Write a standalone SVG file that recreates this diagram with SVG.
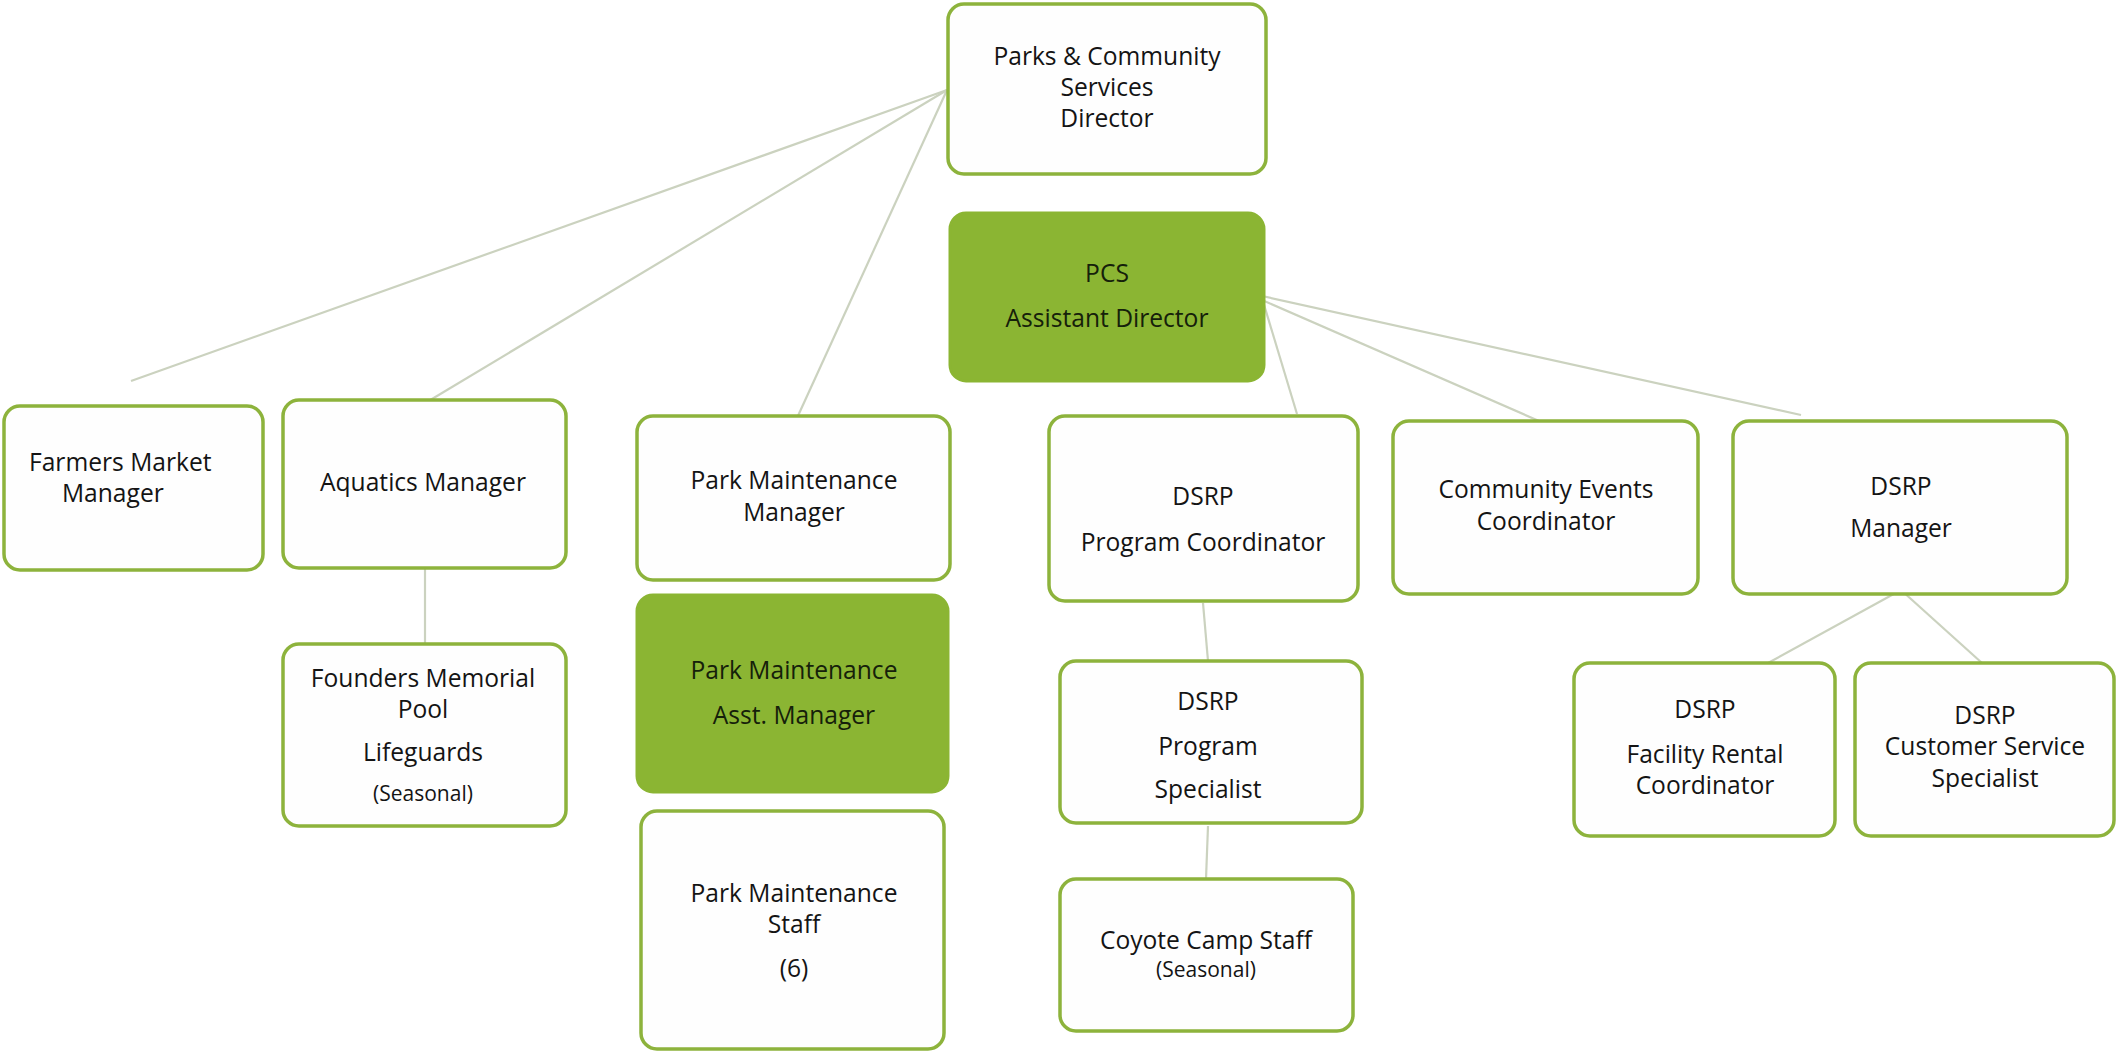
<svg xmlns="http://www.w3.org/2000/svg" width="2117" height="1053" viewBox="0 0 2117 1053">
<style>
.box{fill:#fefefe;stroke:#8db33c;stroke-width:3.5}
.fill{fill:#8bb533;stroke:#8bb533;stroke-width:3}
text{font-family:"Open Sans","Noto Sans","Liberation Sans",sans-serif;font-size:24.6px;fill:#141414;text-anchor:middle}
.dk{fill:#15200a}
.sm{font-size:21px}
.st{text-anchor:start}
.conn line{stroke:#cbd2bf;stroke-width:2.2}
</style>
<rect width="2117" height="1053" fill="#ffffff"/>
<g class="conn" id="connectors">
<line x1="947" y1="90" x2="131" y2="381"/>
<line x1="947" y1="90" x2="427" y2="402"/>
<line x1="947" y1="90" x2="797" y2="418"/>
<line x1="1262" y1="298" x2="1297" y2="414"/>
<line x1="1262" y1="300" x2="1539" y2="421"/>
<line x1="1262" y1="296" x2="1801" y2="415"/>
<line x1="425" y1="566" x2="425" y2="644"/>
<line x1="1203" y1="603" x2="1208" y2="661"/>
<line x1="1208" y1="826" x2="1206" y2="879"/>
<line x1="1901" y1="590" x2="1768" y2="663"/>
<line x1="1901" y1="590" x2="1982" y2="663"/>
</g>
<g id="director"><rect class="box" x="948" y="4" width="318" height="170" rx="16"/><text x="1107" y="65">Parks &amp; Community</text><text x="1107" y="96">Services</text><text x="1107" y="127">Director</text></g>
<g id="pcs-assistant"><rect class="fill" x="950" y="213" width="314" height="168" rx="16"/><text class="dk" x="1107" y="282">PCS</text><text class="dk" x="1107" y="327">Assistant Director</text></g>
<g id="farmers"><rect class="box" x="4" y="406" width="259" height="164" rx="16"/><text class="st" x="29" y="471">Farmers Market</text><text class="st" x="62" y="502">Manager</text></g>
<g id="aquatics"><rect class="box" x="283" y="400" width="283" height="168" rx="16"/><text x="423" y="491">Aquatics Manager</text></g>
<g id="founders"><rect class="box" x="283" y="644" width="283" height="182" rx="16"/><text x="423" y="687">Founders Memorial</text><text x="423" y="718">Pool</text><text x="423" y="761">Lifeguards</text><text class="sm" x="423" y="801">(Seasonal)</text></g>
<g id="pm-manager"><rect class="box" x="637" y="416" width="313" height="164" rx="16"/><text x="794" y="489">Park Maintenance</text><text x="794" y="521">Manager</text></g>
<g id="pm-asst"><rect class="fill" x="637" y="595" width="311" height="197" rx="16"/><text class="dk" x="794" y="679">Park Maintenance</text><text class="dk" x="794" y="724">Asst. Manager</text></g>
<g id="pm-staff"><rect class="box" x="641" y="811" width="303" height="238" rx="16"/><text x="794" y="902">Park Maintenance</text><text x="794" y="933">Staff</text><text x="794" y="977">(6)</text></g>
<g id="dsrp-pc"><rect class="box" x="1049" y="416" width="309" height="185" rx="16"/><text x="1203" y="505">DSRP</text><text x="1203" y="551">Program Coordinator</text></g>
<g id="dsrp-ps"><rect class="box" x="1060" y="661" width="302" height="162" rx="16"/><text x="1208" y="710">DSRP</text><text x="1208" y="755">Program</text><text x="1208" y="798">Specialist</text></g>
<g id="coyote"><rect class="box" x="1060" y="879" width="293" height="152" rx="16"/><text x="1206" y="949">Coyote Camp Staff</text><text class="sm" x="1206" y="977">(Seasonal)</text></g>
<g id="community-events"><rect class="box" x="1393" y="421" width="305" height="173" rx="16"/><text x="1546" y="498">Community Events</text><text x="1546" y="530">Coordinator</text></g>
<g id="dsrp-manager"><rect class="box" x="1733" y="421" width="334" height="173" rx="16"/><text x="1901" y="495">DSRP</text><text x="1901" y="537">Manager</text></g>
<g id="facility-rental"><rect class="box" x="1574" y="663" width="261" height="173" rx="16"/><text x="1705" y="718">DSRP</text><text x="1705" y="763">Facility Rental</text><text x="1705" y="794">Coordinator</text></g>
<g id="customer-service"><rect class="box" x="1855" y="663" width="259" height="173" rx="16"/><text x="1985" y="724">DSRP</text><text x="1985" y="755">Customer Service</text><text x="1985" y="787">Specialist</text></g>
</svg>
